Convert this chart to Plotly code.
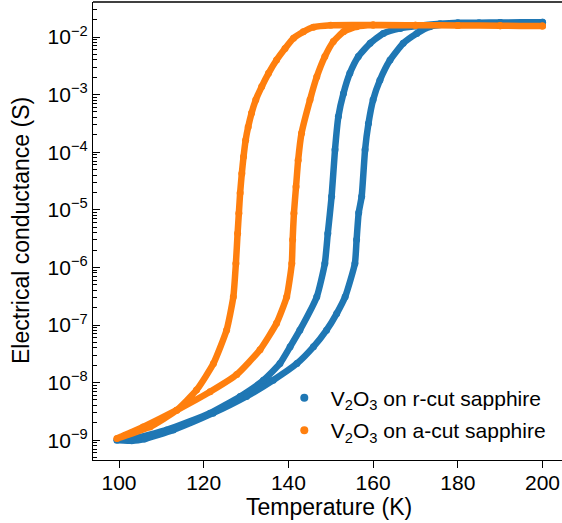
import plotly.graph_objects as go

# V2O3 on r-cut sapphire: cooling branch (200 K -> 99 K) then heating branch (99 K -> 200 K)
rcut_T = [200, 190, 180, 175.8, 170.3, 166.4, 162.4, 159.3, 156.5, 154.5, 153.0, 151.8, 151.0,
          150.2, 149.3, 148.6, 146.7, 142.7, 140.4, 138.0, 134.1, 128.6, 121.5, 111.3, 103.4, 99.5,
          103.0, 106.0, 112.8, 122.2, 130.1, 136.4, 142.0, 145.9, 149.0, 151.4, 153.4, 155.7,
          156.1, 156.6, 157.3, 158.1, 158.9, 160.0, 161.6, 164.0, 167.1, 170.3, 173.4, 178.2,
          185, 190, 200]
rcut_G = [1.80e-2, 1.79e-2, 1.77e-2, 1.70e-2, 1.55e-2, 1.41e-2, 1.15e-2, 7.76e-3, 4.57e-3,
          2.34e-3, 1.05e-3, 4.17e-4, 1.10e-4, 1.70e-5, 3.89e-6, 1.17e-6, 3.09e-7, 8.13e-8,
          4.17e-8, 2.14e-8, 1.10e-8, 5.75e-9, 2.95e-9, 1.51e-9, 1.07e-9, 1.00e-9,
          9.8e-10, 1.05e-9, 1.51e-9, 2.95e-9, 5.75e-9, 1.10e-8, 2.14e-8, 4.17e-8, 8.13e-8,
          1.58e-7, 3.09e-7, 1.17e-6, 3.02e-6, 8.91e-6, 1.70e-5, 1.10e-4, 3.16e-4, 8.13e-4,
          1.78e-3, 3.98e-3, 7.76e-3, 1.15e-2, 1.51e-2, 1.70e-2, 1.77e-2, 1.79e-2, 1.80e-2]

# V2O3 on a-cut sapphire: cooling branch then heating branch
acut_T = [200, 190, 180, 170, 160, 150, 145.9, 143.5, 141.2, 139.2, 137.2, 135.3, 133.7, 132.3,
          131.3, 130.5, 129.9, 129.4, 129.0, 128.6, 128.3, 128.0, 127.6, 127.0, 125.4, 122.3,
          118.3, 113.6, 107.3, 99.5,
          105.7, 113.6, 121.5, 127.8, 133.3, 137.2, 139.6, 140.8, 141.0, 141.3, 141.8, 142.3,
          143.1, 145.1, 146.7, 148.6, 150.6, 153.0, 156.1, 160, 170, 180, 190, 200]
acut_G = [1.55e-2, 1.57e-2, 1.59e-2, 1.60e-2, 1.61e-2, 1.60e-2, 1.48e-2, 1.23e-2, 9.55e-3,
          6.31e-3, 3.98e-3, 2.34e-3, 1.38e-3, 8.13e-4, 4.79e-4, 2.75e-4, 1.62e-4, 8.32e-5,
          4.27e-5, 1.95e-5, 8.71e-6, 3.89e-6, 1.17e-6, 3.09e-7, 8.13e-8, 2.14e-8, 7.41e-9,
          3.31e-9, 1.70e-9, 1.07e-9,
          1.70e-9, 3.31e-9, 6.92e-9, 1.38e-8, 3.72e-8, 1.07e-7, 3.09e-7, 1.17e-6, 3.02e-6,
          8.71e-6, 2.51e-5, 7.24e-5, 2.14e-4, 8.13e-4, 2.04e-3, 4.57e-3, 8.32e-3, 1.23e-2,
          1.51e-2, 1.61e-2, 1.60e-2, 1.59e-2, 1.57e-2, 1.55e-2]

series_names = ["V<sub>2</sub>O<sub>3</sub> on r-cut sapphire",
                "V<sub>2</sub>O<sub>3</sub> on a-cut sapphire"]
x_title = "Temperature (K)"
y_title = "Electrical conductance (S)"
x_ticks = [100, 120, 140, 160, 180, 200]
y_ticks = [1e-9, 1e-8, 1e-7, 1e-6, 1e-5, 1e-4, 1e-3, 1e-2]
y_ticktext = ["10<sup>\u2212%d</sup>" % k for k in range(9, 1, -1)]

BLUE = "#1f77b4"
ORANGE = "#ff7f0e"
FONT = "Liberation Sans, Arial, Helvetica, sans-serif"

fig = go.Figure()
for T, G, c in [(rcut_T, rcut_G, BLUE), (acut_T, acut_G, ORANGE)]:
    fig.add_trace(go.Scatter(x=T, y=G, mode="lines+markers", showlegend=False,
                             line=dict(color=c, width=6.5, shape="spline", smoothing=0.5),
                             marker=dict(color=c, size=7), hoverinfo="skip"))
for name, c, grp in [(series_names[0], BLUE, "r"), (series_names[1], ORANGE, "a")]:
    fig.add_trace(go.Scatter(x=[None], y=[None], mode="markers", name=name, legendgroup=grp,
                             marker=dict(color=c, size=8)))

fig.update_layout(
    width=562, height=523, autosize=False,
    margin=dict(l=93, r=0, t=2, b=63),
    plot_bgcolor="white", paper_bgcolor="white",
    font=dict(family=FONT, size=21, color="black"),
    legend=dict(x=0.394, y=0.100, xanchor="left", yanchor="middle",
                bgcolor="rgba(0,0,0,0)", font=dict(size=21), tracegroupgap=2,
                traceorder="grouped", itemwidth=43),
    shapes=[dict(type="line", xref="paper", yref="paper", x0=0, x1=1, y0=1, y1=1,
                 line=dict(color="black", width=1.3))],
    annotations=[
        dict(text=x_title, xref="paper", yref="paper", x=0.503, y=0, xanchor="center",
             yanchor="middle", yshift=-47, showarrow=False, font=dict(size=23)),
        dict(text=y_title, xref="paper", yref="paper", x=0, y=0.5, xanchor="center",
             yanchor="middle", xshift=-72, textangle=-90, showarrow=False,
             font=dict(size=23)),
    ],
)
fig.update_xaxes(range=[93.86, 204.6], tickvals=x_ticks, ticks="outside", ticklen=7,
                 tickwidth=1.2, tickcolor="black", showline=True, linecolor="black",
                 linewidth=1.3, showgrid=False, zeroline=False, ticklabelstandoff=-3)
fig.update_yaxes(type="log", range=[-9.344, -1.392], tickvals=y_ticks, ticktext=y_ticktext,
                 ticks="inside", ticklen=7, tickwidth=1.2, tickcolor="black",
                 minor=dict(ticks="inside", ticklen=4, tickwidth=1, tickcolor="black",
                            dtick="D1", showgrid=False),
                 showline=True, linecolor="black", linewidth=1.3, showgrid=False,
                 zeroline=False)

fig.write_html("out.html", config={"displayModeBar": False},
               post_script="document.body.style.margin='0px';")
